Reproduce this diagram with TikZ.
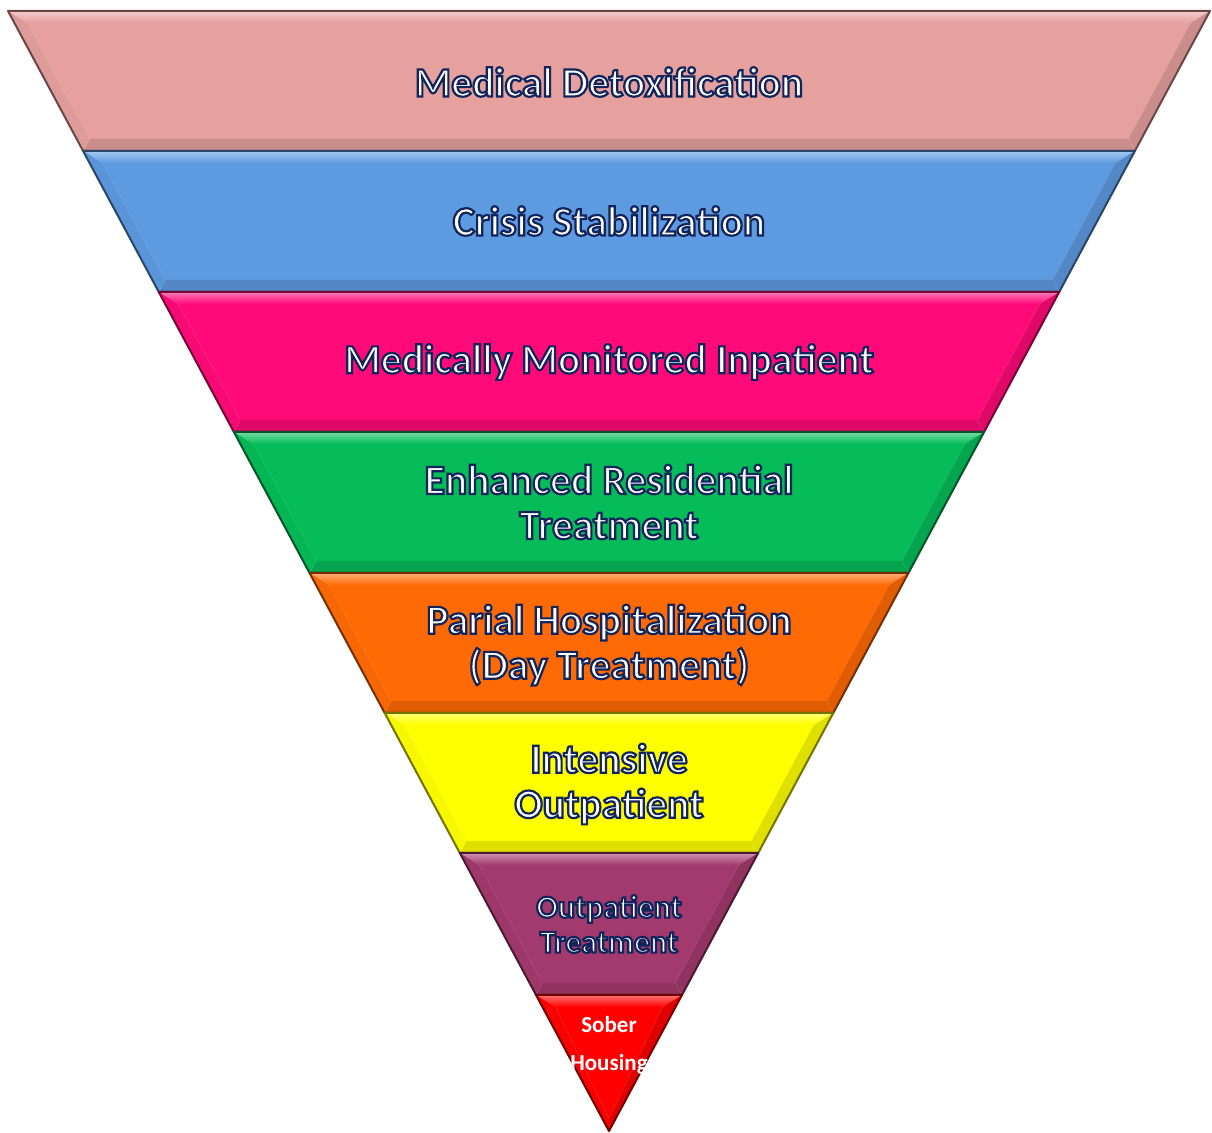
\documentclass[tikz,border=0pt]{standalone}
\usepackage{fontspec}
\setmainfont{Carlito}
\usetikzlibrary{calc}

\definecolor{detox}{RGB}{230,160,158}
\definecolor{crisis}{RGB}{94,154,224}
\definecolor{monitored}{RGB}{255,10,120}
\definecolor{residential}{RGB}{5,188,88}
\definecolor{partial}{RGB}{255,106,5}
\definecolor{intensive}{RGB}{255,255,0}
\definecolor{outpt}{RGB}{163,58,110}
\definecolor{sober}{RGB}{255,0,0}

% white text, navy rim (fill + stroke)
\newcommand{\rim}[1]{\special{pdf:literal direct 2 Tr 1.1 w 0.07 0.14 0.36 RG}#1\special{pdf:literal direct 0 Tr}}

\tikzset{
  lbl/.style = {align=center, inner sep=0pt, text=white, font=\bfseries\fontsize{20.8}{22.5}\selectfont},
  smalllbl/.style = {lbl, font=\bfseries\fontsize{16}{17.5}\selectfont},
  soberlbl/.style = {align=center, inner sep=0pt, text=white, font=\bfseries\fontsize{11.5}{19}\selectfont}
}

\begin{document}
\begin{tikzpicture}[x=0.5pt, y=-0.5pt]
\useasboundingbox (0,0) rectangle (1212,1133);
\coordinate (TL) at (8,11);
\coordinate (TR) at (1210,11);
\coordinate (A) at (609,1131);

\foreach \t/\b/\c in {11/151/detox, 151/292/crisis, 292/432/monitored, 432/573/residential,
                      573/713/partial, 713/853/intensive, 853/995/outpt, 995/1131/sober} {
  \pgfmathsetmacro\ft{(\t-11)/1120}
  \pgfmathsetmacro\fb{(\b-11)/1120}
  \pgfmathsetmacro\fit{(\t+1)/1120}
  \pgfmathsetmacro\fib{(\b-23)/1120}
  \pgfmathsetmacro\it{min(13,601*(1-\fit))}
  \pgfmathsetmacro\ib{min(13,601*(1-\fib))}
  \coordinate (otl) at ($(TL)!\ft!(A)$);
  \coordinate (otr) at ($(TR)!\ft!(A)$);
  \coordinate (obl) at ($(TL)!\fb!(A)$);
  \coordinate (obr) at ($(TR)!\fb!(A)$);
  \coordinate (itl) at ($(TL)!\fit!(A)+(\it,0)$);
  \coordinate (itr) at ($(TR)!\fit!(A)+(-\it,0)$);
  \coordinate (ibl) at ($(TL)!\fib!(A)+(\ib,0)$);
  \coordinate (ibr) at ($(TR)!\fib!(A)+(-\ib,0)$);
  % bevel
  \fill[\c] (itl) -- (itr) -- (ibr) -- (ibl) -- cycle;
  \shade[top color=\c!55!white, bottom color=\c] (otl) -- (otr) -- (itr) -- (itl) -- cycle;
  \fill[\c!88!black] (obl) -- (obr) -- (ibr) -- (ibl) -- cycle;
  \fill[\c!97!black] (otl) -- (itl) -- (ibl) -- (obl) -- cycle;
  \fill[\c!88!black] (otr) -- (itr) -- (ibr) -- (obr) -- cycle;
  \draw[\c!45!black, line width=1pt, line join=round] (otl) -- (otr) -- (obr) -- (obl) -- cycle;
}

\node[lbl] (detoxlbl) at (609,82) {\rim{Medical Detoxification}};
\node[lbl] (crisislbl) at (609,221) {\rim{Crisis Stabilization}};
\node[lbl] (monitoredlbl) at (609,362) {\rim{Medically Monitored Inpatient}};
\node[lbl] (residentiallbl) at (609,502) {\rim{Enhanced Residential}\\\rim{Treatment}};
\node[lbl] (partiallbl) at (609,645) {\rim{Parial Hospitalization}\\\rim{(Day Treatment)}};
\node[lbl] (intensivelbl) at (609,784) {\rim{Intensive}\\\rim{Outpatient}};
\node[smalllbl] (outptlbl) at (609,924) {\rim{Outpatient}\\\rim{Treatment}};
\node[soberlbl] (soberlbl) at (609,1045) {Sober\\Housing};
\end{tikzpicture}
\end{document}
